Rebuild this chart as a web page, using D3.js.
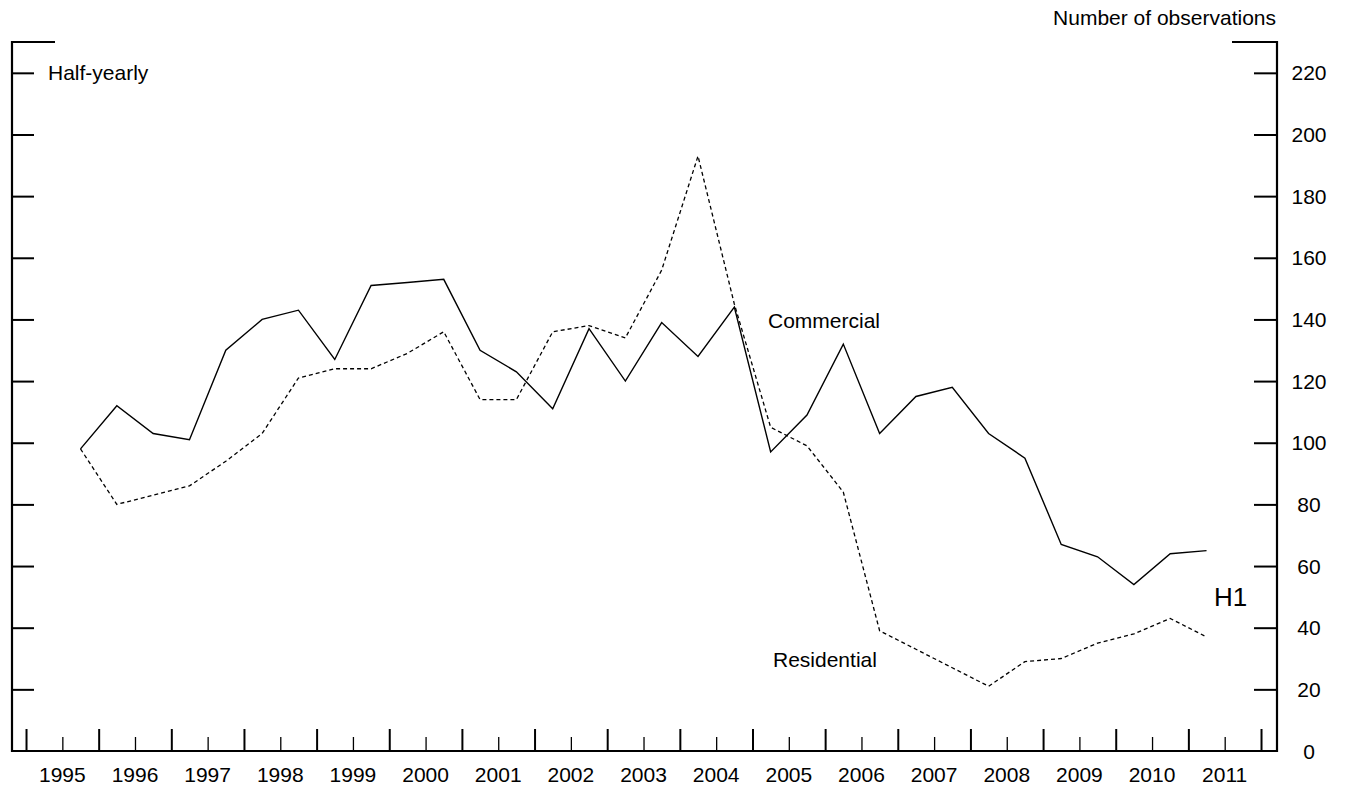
<!DOCTYPE html>
<html>
<head>
<meta charset="utf-8">
<script src="https://cdn.jsdelivr.net/npm/d3@7"></script>
<style>
  html, body { margin: 0; padding: 0; background: #fff; }
  svg text { font-family: "Liberation Sans", Arial, sans-serif; fill: #000; }
</style>
</head>
<body>
<svg id="chart" width="1347" height="788"></svg>
<script>
// Half-yearly periods (plotted at the middle of each half-year)
const periods = [
  "1995 H2","1996 H1","1996 H2","1997 H1","1997 H2","1998 H1","1998 H2","1999 H1",
  "1999 H2","2000 H1","2000 H2","2001 H1","2001 H2","2002 H1","2002 H2","2003 H1",
  "2003 H2","2004 H1","2004 H2","2005 H1","2005 H2","2006 H1","2006 H2","2007 H1",
  "2007 H2","2008 H1","2008 H2","2009 H1","2009 H2","2010 H1","2010 H2","2011 H1"
];
const commercial = [
  98, 112, 103, 101, 130, 140, 143, 127,
  151, 152, 153, 130, 123, 111, 137, 120,
  139, 128, 144, 97, 109, 132, 103, 115,
  118, 103, 95, 67, 63, 54, 64, 65
];
const residential = [
  98, 80, 83, 86, 94, 103, 121, 124,
  124, 129, 136, 114, 114, 136, 138, 134,
  156, 193, 145, 105, 99, 84, 39, 33,
  27, 21, 29, 30, 35, 38, 43, 37
];
const yearLabels = ["1995","1996","1997","1998","1999","2000","2001","2002","2003",
                    "2004","2005","2006","2007","2008","2009","2010","2011"];
const yTicks = [0, 20, 40, 60, 80, 100, 120, 140, 160, 180, 200, 220];

const svg = d3.select("#chart");
const mLeft = 12, mRight = 1277, mTop = 42, mBottom = 751;
const fontSize = "21px";

function periodToYear(p) {
  const [yy, h] = p.split(" ");
  return +yy + (h === "H1" ? 0.25 : 0.75);
}

const x = d3.scaleLinear().domain([1994.807, 2012.22]).range([mLeft, mRight]);
const y = d3.scaleLinear().domain([0, 230]).range([mBottom, mTop]);

// Lines
const line = d3.line()
  .x((d, i) => x(periodToYear(periods[i])))
  .y(d => y(d));

svg.append("path").datum(commercial)
  .attr("fill", "none").attr("stroke", "#000").attr("stroke-width", 1.4)
  .attr("stroke-linejoin", "miter").attr("d", line);

svg.append("path").datum(residential)
  .attr("fill", "none").attr("stroke", "#000").attr("stroke-width", 1.3)
  .attr("stroke-dasharray", "4,3").attr("d", line);

// Left axis (ticks inward, no labels)
const leftAxis = d3.axisRight(y).tickValues(yTicks.filter(v => v > 0)).tickSize(22).tickFormat("");
const gl = svg.append("g").attr("transform", `translate(${mLeft},0)`).call(leftAxis);
gl.select(".domain").remove();
gl.selectAll(".tick line").attr("stroke", "#000").attr("stroke-width", 2);

// Right axis (ticks inward, labels outside)
const rightAxis = d3.axisLeft(y).tickValues(yTicks.filter(v => v > 0)).tickSize(23).tickFormat("");
const gr = svg.append("g").attr("transform", `translate(${mRight},0)`).call(rightAxis);
gr.select(".domain").remove();
gr.selectAll(".tick line").attr("stroke", "#000").attr("stroke-width", 2);

svg.append("g").selectAll("text").data(yTicks).join("text")
  .attr("x", mRight + 32).attr("y", d => y(d)).attr("dy", "0.36em")
  .attr("text-anchor", "middle").attr("font-size", fontSize)
  .text(d => d);

// Frame lines
function frameLine(x1, x2, y1, y2) {
  svg.append("line").attr("x1", x1).attr("x2", x2).attr("y1", y1).attr("y2", y2)
    .attr("stroke", "#000").attr("stroke-width", 2.2);
}
frameLine(mLeft, mLeft, mTop - 1, mBottom + 1);
frameLine(mRight, mRight, mTop - 1, mBottom + 1);
frameLine(mLeft - 1, mRight + 1, mBottom, mBottom);
frameLine(mLeft - 1, mLeft + 43, y(230), y(230));
frameLine(mRight - 45, mRight + 1, y(230), y(230));

// Bottom axis: major ticks at year boundaries, minor at mid-year
const majorYears = d3.range(1995, 2013);
const minorYears = d3.range(1995.5, 2012, 1);
const bMajor = d3.axisTop(x).tickValues(majorYears).tickSize(22).tickFormat("");
const gbM = svg.append("g").attr("transform", `translate(0,${mBottom})`).call(bMajor);
gbM.select(".domain").remove();
gbM.selectAll(".tick line").attr("stroke", "#000").attr("stroke-width", 2);
const bMinor = d3.axisTop(x).tickValues(minorYears).tickSize(14).tickFormat("");
const gbm = svg.append("g").attr("transform", `translate(0,${mBottom})`).call(bMinor);
gbm.select(".domain").remove();
gbm.selectAll(".tick line").attr("stroke", "#000").attr("stroke-width", 1.3);

svg.append("g").selectAll("text").data(yearLabels).join("text")
  .attr("x", d => x(+d + 0.5)).attr("y", 782)
  .attr("text-anchor", "middle").attr("font-size", fontSize)
  .text(d => d);

// Annotations
svg.append("text").attr("x", 48).attr("y", 80).attr("font-size", fontSize).text("Half-yearly");
svg.append("text").attr("x", 1276).attr("y", 25).attr("text-anchor", "end")
  .attr("font-size", fontSize).text("Number of observations");
svg.append("text").attr("x", 768).attr("y", 328).attr("font-size", fontSize).text("Commercial");
svg.append("text").attr("x", 773).attr("y", 667).attr("font-size", fontSize).text("Residential");
svg.append("text").attr("x", 1214).attr("y", 606).attr("font-size", "26px").text("H1");
</script>
</body>
</html>
